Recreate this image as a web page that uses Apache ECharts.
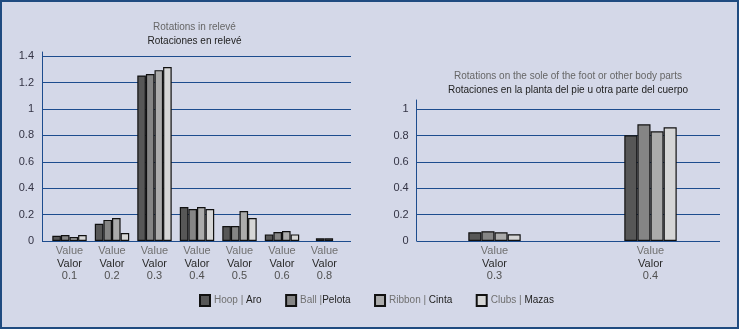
<!DOCTYPE html>
<html>
<head>
<meta charset="utf-8">
<script src="https://cdn.jsdelivr.net/npm/echarts@6/dist/echarts.min.js"></script>
<style>
html,body{margin:0;padding:0;background:#d4d8e8;}
#wrap{position:relative;width:739px;height:329px;}
#c{position:absolute;left:0;top:0;width:739px;height:329px;}
#frame{position:absolute;left:0;top:0;width:739px;height:329px;box-sizing:border-box;border:2px solid #1f4b80;pointer-events:none;}
</style>
</head>
<body>
<div id="wrap"><div id="c"></div><div id="frame"></div></div>
<script>
// ---- data ----
const seriesNames = ['Hoop | Aro', 'Ball |Pelota', 'Ribbon | Cinta', 'Clubs | Mazas'];
const leftCats = ['0.1', '0.2', '0.3', '0.4', '0.5', '0.6', '0.8'];
const leftHoop   = [0.04, 0.13, 1.255, 0.258, 0.114, 0.05, 0.02];
const leftBall   = [0.045, 0.16, 1.265, 0.242, 0.114, 0.068, 0.02];
const leftRibbon = [0.03, 0.174, 1.295, 0.258, 0.227, 0.076, null];
const leftClubs  = [0.045, 0.06, 1.318, 0.242, 0.174, 0.05, null];
const rightCats = ['0.3', '0.4'];
const rightHoop   = [0.066, 0.803];
const rightBall   = [0.074, 0.886];
const rightRibbon = [0.066, 0.833];
const rightClubs  = [0.051, 0.863];
const leftTicks = [0, 0.2, 0.4, 0.6, 0.8, 1, 1.2, 1.4];
const rightTicks = [0, 0.2, 0.4, 0.6, 0.8, 1];

// ---- styles ----
const colors = ['#575757', '#858585', '#ababab', '#d6d6d6'];
const blue = '#1d4c8e';
const legendParts = [['Hoop |', 'Aro'], ['Ball |', 'Pelota'], ['Ribbon |', 'Cinta'], ['Clubs |', 'Mazas']];
const FF = 'Liberation Sans';

function catLabel() {
  return {
    interval: 0, margin: 4, fontSize: 11, fontFamily: FF,
    formatter: v => '{a|Value}\n{b|Valor}\n{c|' + v + '}',
    rich: {
      a: {color: '#707070', fontSize: 11, lineHeight: 12.5, fontFamily: FF},
      b: {color: '#2a2a2a', fontSize: 11, lineHeight: 12.5, fontFamily: FF},
      c: {color: '#505050', fontSize: 11, lineHeight: 12.5, fontFamily: FF}
    }
  };
}

const grid = [
  // left chart
  {left: 42, top: 56.3, width: 309, height: 184.7},      // 0 frame
  {left: 42, top: 52, width: 1, height: 189},            // 1 y axis line
  {left: 48.25, top: 56.3, width: 297.5, height: 184.7}, // 2 bars
  // right chart
  {left: 416.7, top: 109.3, width: 303.3, height: 131.7},// 3 frame
  {left: 416.7, top: 100, width: 1, height: 141},        // 4 y axis line
  {left: 416.5, top: 109.3, width: 312, height: 131.7}   // 5 bars
];

function frameY(gi, ticks) {
  return {
    type: 'value', gridIndex: gi, min: ticks[0], max: ticks[ticks.length - 1], interval: ticks[1] - ticks[0],
    axisLine: {show: false}, axisTick: {show: false},
    splitLine: {show: true, lineStyle: {color: blue, width: 1}},
    axisLabel: {color: '#333344', fontSize: 11, margin: 8, fontFamily: FF}
  };
}
function lineY(gi) {
  return {type: 'value', gridIndex: gi, min: 0, max: 1, axisLine: {show: true, lineStyle: {color: blue, width: 1}},
    axisTick: {show: false}, axisLabel: {show: false}, splitLine: {show: false}};
}
function barY(gi, ticks) {
  return {type: 'value', gridIndex: gi, min: ticks[0], max: ticks[ticks.length - 1], show: false, splitLine: {show: false}};
}

const yAxis = [
  frameY(0, leftTicks), lineY(1), barY(2, leftTicks),
  frameY(3, rightTicks), lineY(4), barY(5, rightTicks)
];
const hiddenX = gi => ({type: 'value', gridIndex: gi, show: false, splitLine: {show: false}});
const xAxis = [
  hiddenX(0), hiddenX(1),
  {type: 'category', gridIndex: 2, data: leftCats, axisLine: {show: false}, axisTick: {show: false}, axisLabel: catLabel()}, // 2
  {type: 'category', gridIndex: 2, data: leftCats, show: false},  // 3 partial groups
  hiddenX(3), hiddenX(4),
  {type: 'category', gridIndex: 5, data: rightCats, axisLine: {show: false}, axisTick: {show: false}, axisLabel: catLabel()}, // 6
  {type: 'category', gridIndex: 5, data: rightCats, show: false}  // 7 partial groups
];

function buildSeries(all, cats, mainX, partX, yIdx, bw) {
  const out = [];
  const complete = cats.map((c, i) => all.every(s => s[i] != null));
  all.forEach((vals, si) => {
    out.push({
      type: 'bar', name: seriesNames[si], xAxisIndex: mainX, yAxisIndex: yIdx,
      barWidth: bw, barGap: '0%', itemStyle: {color: colors[si], borderColor: '#111', borderWidth: 1.2}, silent: true,
      data: vals.map((v, i) => complete[i] ? v : null)
    });
  });
  all.forEach((vals, si) => {
    const hasPartial = vals.some((v, i) => !complete[i] && v != null);
    if (!hasPartial) return;
    out.push({
      type: 'bar', name: seriesNames[si], xAxisIndex: partX, yAxisIndex: yIdx,
      barWidth: bw, barGap: '0%', itemStyle: {color: colors[si], borderColor: '#111', borderWidth: 1.2}, silent: true,
      data: vals.map((v, i) => complete[i] ? null : v)
    });
  });
  return out;
}

const series = [].concat(
  buildSeries([leftHoop, leftBall, leftRibbon, leftClubs], leftCats, 2, 3, 2, 8.6),
  buildSeries([rightHoop, rightBall, rightRibbon, rightClubs], rightCats, 6, 7, 5, 13.1)
);

const titleRich = {
  a: {color: '#666666', fontSize: 10, lineHeight: 14, fontWeight: 'normal', fontFamily: FF},
  b: {color: '#222222', fontSize: 10, lineHeight: 14, fontWeight: 'normal', fontFamily: FF}
};

const option = {
  animation: false,
  backgroundColor: '#d4d8e8',
  title: [
    {left: 194.5, top: 20.5, textAlign: 'center', padding: 0,
     text: '{a|Rotations in relevé}\n{b|Rotaciones en relevé}', textStyle: {fontWeight: 'normal', rich: titleRich}},
    {left: 568, top: 69.5, textAlign: 'center', padding: 0,
     text: '{a|Rotations on the sole of the foot or other body parts}\n{b|Rotaciones en la planta del pie u otra parte del cuerpo}', textStyle: {fontWeight: 'normal', rich: titleRich}}
  ],
  legend: {
    left: 199, top: 294, padding: 0, itemWidth: 10, itemHeight: 11, itemGap: 23.5,
    icon: 'rect', data: seriesNames, selectedMode: false,
    formatter: name => {
      const p = legendParts[seriesNames.indexOf(name)];
      return '{g|' + p[0] + '}{d|' + (name.indexOf('| ') >= 0 ? ' ' : '') + p[1] + '}';
    },
    textStyle: {
      fontSize: 10, fontFamily: FF, padding: [0, 0, 0, -1],
      rich: {
        g: {color: '#707070', fontSize: 10, fontFamily: FF},
        d: {color: '#222222', fontSize: 10, fontFamily: FF}
      }
    }
  },
  grid, xAxis, yAxis, series
};

const chart = echarts.init(document.getElementById('c'), null, {renderer: 'canvas'});
chart.setOption(option);
</script>
</body>
</html>
